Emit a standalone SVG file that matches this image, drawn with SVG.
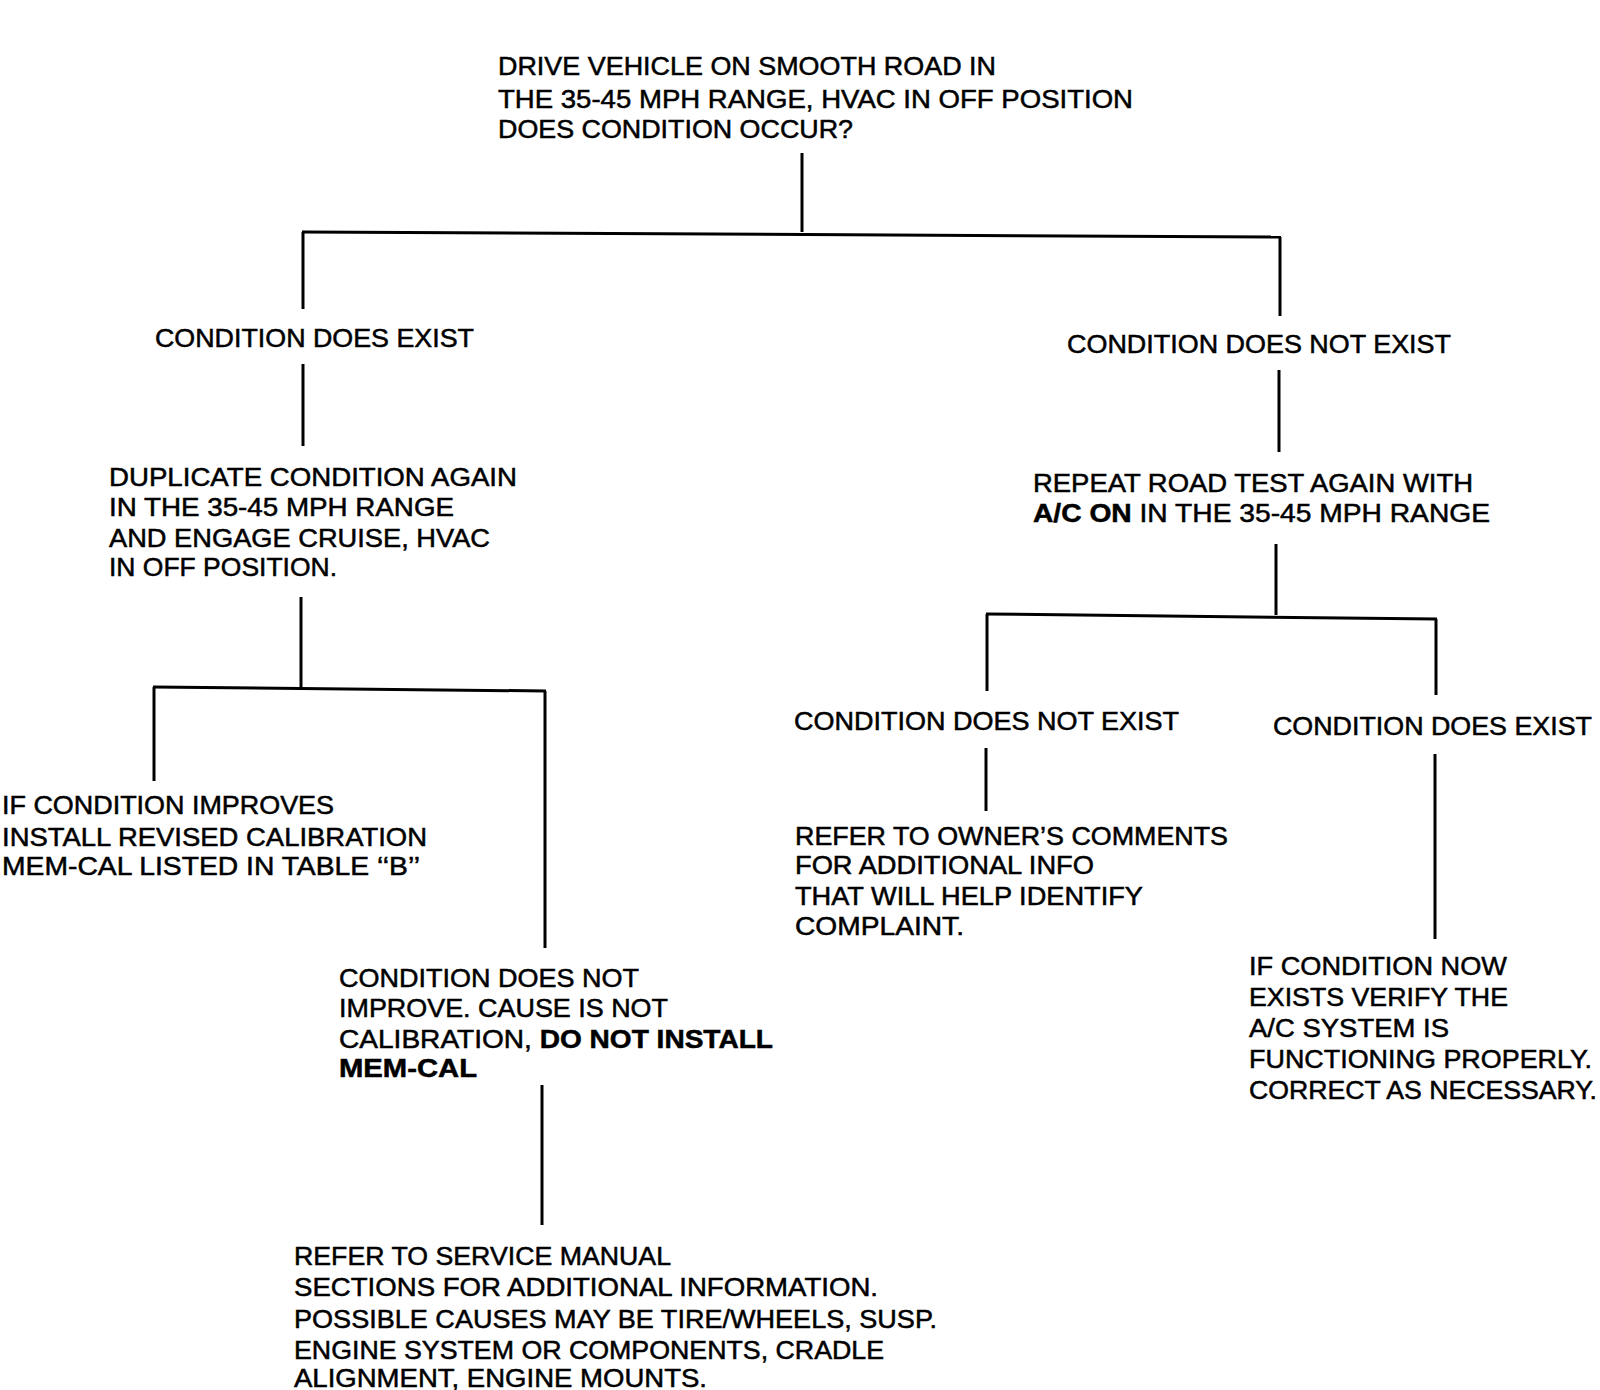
<svg xmlns="http://www.w3.org/2000/svg" width="1600" height="1390" viewBox="0 0 1600 1390">
<style>
text{font-family:"Liberation Sans",Arial,sans-serif;font-size:25px;fill:#000;stroke:#000;stroke-width:0.5;}
.b{font-weight:bold;}
.c line{stroke:#000;stroke-width:3;stroke-linecap:butt;}
</style>
<rect width="1600" height="1390" fill="#fff"/>
<g class="c" id="connectors">
<line x1="802" y1="153" x2="802" y2="232"/>
<line x1="302" y1="232" x2="1281" y2="237"/>
<line x1="303" y1="232" x2="303" y2="309"/>
<line x1="1280" y1="237" x2="1280" y2="316"/>
<line x1="303" y1="364" x2="303" y2="446"/>
<line x1="1279" y1="370" x2="1279" y2="452"/>
<line x1="301" y1="597" x2="301" y2="687"/>
<line x1="153" y1="687" x2="546" y2="691"/>
<line x1="154" y1="687" x2="154" y2="781"/>
<line x1="545" y1="691" x2="545" y2="948"/>
<line x1="542" y1="1085" x2="542" y2="1225"/>
<line x1="1276" y1="544" x2="1276" y2="615"/>
<line x1="986" y1="614" x2="1437" y2="619"/>
<line x1="987" y1="614" x2="987" y2="691"/>
<line x1="1436" y1="619" x2="1436" y2="695"/>
<line x1="986" y1="748" x2="986" y2="811"/>
<line x1="1435" y1="754" x2="1435" y2="939"/>
</g>
<g id="start">
<text x="498" y="75" textLength="498" lengthAdjust="spacingAndGlyphs">DRIVE VEHICLE ON SMOOTH ROAD IN</text>
<text x="498" y="108" textLength="635" lengthAdjust="spacingAndGlyphs">THE 35-45 MPH RANGE, HVAC IN OFF POSITION</text>
<text x="498" y="138" textLength="355" lengthAdjust="spacingAndGlyphs">DOES CONDITION OCCUR?</text>
</g>
<g id="exist1">
<text x="155" y="347" textLength="319" lengthAdjust="spacingAndGlyphs">CONDITION DOES EXIST</text>
</g>
<g id="duplicate">
<text x="109" y="486" textLength="408" lengthAdjust="spacingAndGlyphs">DUPLICATE CONDITION AGAIN</text>
<text x="109" y="516" textLength="345" lengthAdjust="spacingAndGlyphs">IN THE 35-45 MPH RANGE</text>
<text x="109" y="547" textLength="381" lengthAdjust="spacingAndGlyphs">AND ENGAGE CRUISE, HVAC</text>
<text x="109" y="576" textLength="228" lengthAdjust="spacingAndGlyphs">IN OFF POSITION.</text>
</g>
<g id="improves">
<text x="2" y="814" textLength="332" lengthAdjust="spacingAndGlyphs">IF CONDITION IMPROVES</text>
<text x="2" y="846" textLength="425" lengthAdjust="spacingAndGlyphs">INSTALL REVISED CALIBRATION</text>
<text x="2" y="875" textLength="418" lengthAdjust="spacingAndGlyphs">MEM-CAL LISTED IN TABLE ‘‘B’’</text>
</g>
<g id="notimprove">
<text x="339" y="987" textLength="300" lengthAdjust="spacingAndGlyphs">CONDITION DOES NOT</text>
<text x="339" y="1017" textLength="329" lengthAdjust="spacingAndGlyphs">IMPROVE. CAUSE IS NOT</text>
<text x="339" y="1048" textLength="434" lengthAdjust="spacingAndGlyphs">CALIBRATION, <tspan class="b">DO NOT INSTALL</tspan></text>
<text x="339" y="1077" class="b" textLength="138" lengthAdjust="spacingAndGlyphs">MEM-CAL</text>
</g>
<g id="servicemanual">
<text x="294" y="1265" textLength="377" lengthAdjust="spacingAndGlyphs">REFER TO SERVICE MANUAL</text>
<text x="294" y="1296" textLength="584" lengthAdjust="spacingAndGlyphs">SECTIONS FOR ADDITIONAL INFORMATION.</text>
<text x="294" y="1328" textLength="643" lengthAdjust="spacingAndGlyphs">POSSIBLE CAUSES MAY BE TIRE/WHEELS, SUSP.</text>
<text x="294" y="1359" textLength="590" lengthAdjust="spacingAndGlyphs">ENGINE SYSTEM OR COMPONENTS, CRADLE</text>
<text x="294" y="1387" textLength="413" lengthAdjust="spacingAndGlyphs">ALIGNMENT, ENGINE MOUNTS.</text>
</g>
<g id="notexist1">
<text x="1067" y="353" textLength="384" lengthAdjust="spacingAndGlyphs">CONDITION DOES NOT EXIST</text>
</g>
<g id="repeat">
<text x="1033" y="492" textLength="440" lengthAdjust="spacingAndGlyphs">REPEAT ROAD TEST AGAIN WITH</text>
<text x="1033" y="522" textLength="457" lengthAdjust="spacingAndGlyphs"><tspan class="b">A/C ON</tspan> IN THE 35-45 MPH RANGE</text>
</g>
<g id="notexist2">
<text x="794" y="730" textLength="385" lengthAdjust="spacingAndGlyphs">CONDITION DOES NOT EXIST</text>
</g>
<g id="exist2">
<text x="1273" y="735" textLength="319" lengthAdjust="spacingAndGlyphs">CONDITION DOES EXIST</text>
</g>
<g id="owner">
<text x="795" y="845" textLength="433" lengthAdjust="spacingAndGlyphs">REFER TO OWNER’S COMMENTS</text>
<text x="795" y="874" textLength="299" lengthAdjust="spacingAndGlyphs">FOR ADDITIONAL INFO</text>
<text x="795" y="905" textLength="348" lengthAdjust="spacingAndGlyphs">THAT WILL HELP IDENTIFY</text>
<text x="795" y="935" textLength="169" lengthAdjust="spacingAndGlyphs">COMPLAINT.</text>
</g>
<g id="acsystem">
<text x="1249" y="975" textLength="258" lengthAdjust="spacingAndGlyphs">IF CONDITION NOW</text>
<text x="1249" y="1006" textLength="259" lengthAdjust="spacingAndGlyphs">EXISTS VERIFY THE</text>
<text x="1249" y="1037" textLength="200" lengthAdjust="spacingAndGlyphs">A/C SYSTEM IS</text>
<text x="1249" y="1068" textLength="343" lengthAdjust="spacingAndGlyphs">FUNCTIONING PROPERLY.</text>
<text x="1249" y="1099" textLength="348" lengthAdjust="spacingAndGlyphs">CORRECT AS NECESSARY.</text>
</g>
</svg>
